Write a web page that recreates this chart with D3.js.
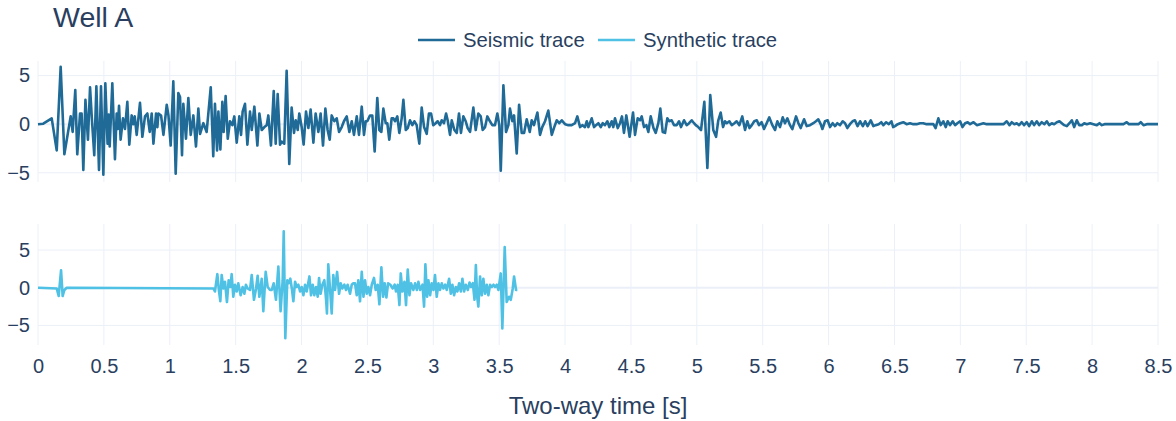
<!DOCTYPE html>
<html><head><meta charset="utf-8">
<script src="https://cdn.jsdelivr.net/npm/d3@7"></script>
<style>body{margin:0;background:#fff}</style>
</head><body><div id="chart"></div>
<script>
const chartTitle = "Well A";
const xTitle = "Two-way time [s]";
const seriesNames = ["Seismic trace", "Synthetic trace"];
const xTicks = [0,0.5,1,1.5,2,2.5,3,3.5,4,4.5,5,5.5,6,6.5,7,7.5,8,8.5];
const yTicks = [-5,0,5];

const seismicTime = [0,0.04,0.104,0.142,0.172,0.2,0.248,0.263,0.283,0.298,0.319,0.331,0.344,0.36,0.379,0.395,0.41,0.427,0.443,0.463,0.478,0.496,0.511,0.528,0.536,0.544,0.564,0.584,0.597,0.605,0.615,0.627,0.645,0.66,0.678,0.693,0.711,0.723,0.734,0.749,0.774,0.792,0.812,0.83,0.848,0.863,0.876,0.896,0.906,0.914,0.934,0.952,0.977,0.99,1.007,1.027,1.045,1.065,1.078,1.093,1.103,1.123,1.141,1.159,1.179,1.199,1.217,1.23,1.255,1.28,1.311,1.33,1.343,1.359,1.369,1.384,1.399,1.409,1.424,1.44,1.457,1.475,1.49,1.508,1.528,1.541,1.553,1.571,1.589,1.609,1.622,1.642,1.665,1.68,1.698,1.718,1.736,1.748,1.768,1.789,1.804,1.819,1.837,1.849,1.869,1.887,1.907,1.925,1.943,1.956,1.971,1.983,2.001,2.016,2.034,2.052,2.069,2.09,2.107,2.128,2.145,2.163,2.181,2.198,2.214,2.229,2.249,2.267,2.285,2.305,2.322,2.343,2.363,2.381,2.398,2.419,2.436,2.457,2.474,2.487,2.499,2.52,2.537,2.555,2.575,2.59,2.606,2.621,2.639,2.651,2.666,2.684,2.697,2.71,2.727,2.742,2.76,2.773,2.791,2.806,2.823,2.841,2.856,2.874,2.894,2.912,2.93,2.95,2.967,2.983,3.0,3.018,3.033,3.051,3.064,3.081,3.097,3.109,3.127,3.14,3.16,3.178,3.195,3.21,3.228,3.246,3.261,3.279,3.304,3.322,3.342,3.36,3.375,3.393,3.41,3.43,3.448,3.468,3.486,3.501,3.512,3.532,3.552,3.57,3.582,3.6,3.613,3.633,3.651,3.671,3.689,3.709,3.732,3.747,3.764,3.79,3.81,3.827,3.848,3.873,3.899,3.918,3.937,3.956,3.975,4.0,4.025,4.05,4.076,4.093,4.114,4.131,4.151,4.165,4.177,4.202,4.22,4.235,4.253,4.271,4.286,4.303,4.321,4.336,4.354,4.366,4.379,4.4,4.417,4.432,4.447,4.465,4.49,4.516,4.531,4.551,4.569,4.582,4.599,4.617,4.632,4.65,4.671,4.688,4.708,4.723,4.741,4.759,4.776,4.791,4.809,4.827,4.847,4.865,4.88,4.903,4.923,4.941,4.961,4.979,4.992,5.011,5.032,5.057,5.08,5.102,5.125,5.146,5.163,5.181,5.199,5.214,5.227,5.247,5.265,5.285,5.302,5.323,5.345,5.366,5.383,5.4,5.417,5.436,5.455,5.472,5.492,5.51,5.53,5.55,5.573,5.594,5.611,5.631,5.652,5.669,5.687,5.707,5.725,5.753,5.771,5.788,5.814,5.834,5.859,5.884,5.904,5.922,5.94,5.953,5.973,5.993,6.011,6.031,6.049,6.066,6.087,6.107,6.125,6.142,6.162,6.182,6.2,6.22,6.239,6.26,6.278,6.296,6.32,6.34,6.357,6.38,6.4,6.416,6.437,6.457,6.477,6.49,6.504,6.525,6.543,6.567,6.592,6.618,6.643,6.668,6.694,6.718,6.744,6.77,6.795,6.812,6.833,6.851,6.871,6.889,6.904,6.921,6.942,6.96,6.977,6.998,7.016,7.036,7.056,7.074,7.1,7.125,7.15,7.175,7.2,7.226,7.251,7.277,7.302,7.327,7.352,7.373,7.39,7.41,7.428,7.446,7.466,7.484,7.504,7.522,7.542,7.56,7.58,7.598,7.618,7.638,7.656,7.674,7.694,7.712,7.732,7.752,7.77,7.788,7.808,7.828,7.846,7.864,7.884,7.902,7.922,7.94,7.96,7.985,8.01,8.036,8.056,8.074,8.094,8.112,8.137,8.162,8.188,8.213,8.238,8.263,8.28,8.3,8.326,8.351,8.369,8.39,8.415,8.44,8.465,8.5];
const seismicAmp = [0,0.05,0.6,-2.7,5.9,-3.1,0.8,-0.8,3.5,-3.1,1.1,1.1,-4.7,2.5,-1.6,3.8,0.3,-3.2,3.9,-4.7,3.9,-5.2,4.2,-2.0,1.0,-2.3,4.2,-3.6,1.1,-0.5,1.9,-1.6,0.6,-0.5,2.3,-2.1,0.9,0.0,0.8,-1.1,2.2,-1.3,0.8,1.1,-0.8,1.1,-2.0,1.1,-0.3,1.1,0.9,-1.1,2.0,0.9,-2.2,4.4,-5.1,3.2,2.8,-3.2,2.1,-1.5,2.7,-1.1,0.9,-2.3,1.6,-1.0,0.1,-0.8,3.8,-3.3,2.1,-2.7,1.3,-2.6,2.3,-0.8,2.9,-1.5,0.3,-0.1,0.8,-1.9,0.8,-1.1,1.3,2.1,-2.1,1.3,-0.6,1.8,-2.2,1.1,-0.6,-0.3,-0.1,0.9,-2.2,3.4,-2.0,3.1,-2.1,-1.8,-2.0,5.5,-4.1,1.7,-0.9,0.4,-0.6,1.1,-0.3,-2.1,1.3,-0.4,1.5,-1.9,1.1,-0.8,1.1,-2.2,1.6,-0.6,-1.6,0.9,0.3,0.6,-0.8,-0.3,0.3,0.8,-0.8,0.3,-1.1,0.8,-1.1,1.8,-1.1,0.3,0.3,0.9,0.9,-2.8,2.7,-0.6,-0.8,1.6,0.1,0.1,-1.6,0.6,0.6,0.3,0.8,-0.9,0.6,2.5,-0.6,-0.4,0.4,-0.1,0.3,-0.1,-2.0,1.7,-0.3,-1.0,1.1,1.1,-0.1,0.1,0.3,-0.1,0.4,0.1,1.1,0.4,-1.1,0.4,-0.6,-0.9,1.1,-0.9,0.8,0.3,-0.4,-0.8,1.7,-0.6,1.1,0.8,-0.6,-0.3,0.8,0.3,-0.1,-0.1,1.1,-0.1,-4.8,4.0,-0.8,-0.1,1.6,0.3,0.9,-3.0,2.0,-0.9,-0.9,0.5,-0.8,0.4,-0.1,1.2,-1.1,-0.3,0.3,1.4,-1.1,-0.3,0.4,0.1,0.4,0.0,-0.1,-0.1,0.1,0.8,-0.3,-0.1,-0.3,0.3,-0.3,0.6,-0.3,-0.1,0.1,-0.3,0.1,-0.1,0.3,-0.3,0.3,-0.3,0.6,-0.4,0.1,0.8,-0.9,0.9,-1.3,1.2,-1.1,0.6,0.4,0.8,-0.3,-0.1,-0.8,0.8,-0.4,-0.9,0.1,1.6,-0.8,-0.9,0.6,0.3,0.4,-0.1,-0.1,0.3,-0.3,0.4,-0.1,0.1,0.4,0.1,-0.1,-0.3,-0.6,2.3,-4.5,3.0,-0.6,-1.3,0.4,1.2,-0.3,0.3,0.1,0.3,-0.1,0.1,0.3,-0.1,0.8,-0.6,0.3,-0.4,-0.1,0.3,0.4,-0.1,0.2,-0.5,0.1,0.7,-0.1,-0.6,0.3,-0.3,0.7,0.1,0.6,-0.1,-0.5,0.8,0.1,-0.4,0.5,-0.2,-0.1,0.1,0.3,0.5,0,-0.5,0.3,0.4,-0.3,0.1,-0.2,0.1,-0.1,0.3,0.1,-0.4,0,0.3,0.4,-0.2,0.3,-0.2,0.3,-0.2,0.4,-0.2,-0.1,0,0.2,-0.1,0.2,0,0.3,-0.3,-0.2,0,0.1,0.2,0,0.1,0,0,0.1,0.1,0,0,0,-0.4,0.6,-0.1,0.3,-0.3,0.3,-0.1,0.3,-0.1,0.1,0.3,-0.3,0.1,0.2,0,0.2,-0.1,0,0.1,0,0,0,0,0,0,0.3,-0.1,0.2,0,0.1,-0.1,0.2,-0.1,0.2,-0.2,0.3,-0.1,0.3,-0.1,0.2,0,0.3,-0.1,0.1,0,0.2,0.3,0.1,-0.1,-0.2,0.1,0.4,-0.3,0.4,-0.1,-0.1,0.1,0,0.1,0,-0.1,0.1,-0.1,0,0,0,0,0,0,0,0.2,0,0,0,0,0.2,-0.1,0,0,0,0];

const synthTime = [0,0.142,0.157,0.175,0.187,0.2,0.218,1.331,1.343,1.361,1.374,1.384,1.394,1.407,1.419,1.434,1.447,1.46,1.47,1.482,1.495,1.508,1.52,1.538,1.553,1.566,1.578,1.591,1.609,1.622,1.639,1.655,1.667,1.68,1.698,1.71,1.728,1.743,1.761,1.774,1.789,1.806,1.824,1.841,1.857,1.865,1.877,1.892,1.902,1.915,1.928,1.938,1.951,1.963,1.976,1.989,2.001,2.014,2.027,2.039,2.06,2.072,2.085,2.097,2.11,2.123,2.133,2.145,2.158,2.173,2.186,2.193,2.203,2.216,2.229,2.241,2.254,2.27,2.285,2.297,2.31,2.325,2.338,2.35,2.368,2.381,2.393,2.406,2.419,2.431,2.444,2.457,2.47,2.482,2.495,2.507,2.52,2.533,2.55,2.563,2.578,2.591,2.606,2.619,2.631,2.644,2.657,2.674,2.692,2.707,2.717,2.73,2.743,2.753,2.766,2.781,2.793,2.806,2.819,2.831,2.849,2.862,2.875,2.887,2.9,2.918,2.93,2.94,2.953,2.963,2.976,2.988,3.001,3.013,3.026,3.039,3.051,3.064,3.077,3.09,3.102,3.12,3.133,3.145,3.158,3.171,3.183,3.196,3.209,3.221,3.234,3.247,3.262,3.275,3.287,3.3,3.313,3.323,3.333,3.342,3.355,3.368,3.38,3.393,3.406,3.418,3.431,3.444,3.457,3.469,3.482,3.494,3.512,3.524,3.542,3.557,3.575,3.588,3.603,3.613,3.628,3.638];
const synthAmp = [0,-0.1,-1.1,2.3,-1.1,-0.3,0,-0.1,-0.5,1.8,-0.5,-1.8,1.7,-0.1,0.8,-1.9,1.0,0.1,1.8,-1.2,0.4,-0.5,0.6,-1.0,0.1,-0.8,0.4,-0.1,-0.3,1.7,-1.6,-0.1,1.6,-1.2,1.2,-3.1,2.1,0.1,-0.3,-0.3,0.6,-1.6,2.8,-3.1,1.0,7.5,-6.7,1.0,0.6,1.2,-0.3,-1.8,0.8,0.1,0.4,-0.5,0.1,-1.0,0.4,-0.5,1.5,-1.0,0.4,-1.0,0.1,-1.2,1.3,-0.8,0.4,1.0,-1.5,-3.4,3.1,-0.1,-3.4,1.7,-0.3,2.1,-0.8,0.6,-0.1,0.4,-0.3,0.4,-0.8,0.4,0.6,0.6,-1.0,1.0,-1.8,2.1,-1.2,1.0,-0.8,0.1,-1.0,0.4,1.3,-0.3,0.4,-2.2,2.7,-1.2,0.6,-1.3,0.6,0.4,-0.1,0.4,-0.5,0.4,-2.3,1.9,-0.5,0.8,-2.3,2.4,-1.0,0.6,-0.3,0.6,-0.3,0.8,-0.3,0.4,-2.5,3.1,-1.2,1.0,-1.0,0.6,-0.3,1.7,-1.2,0.6,-0.3,0.6,-0.1,0.4,-0.3,1.2,-0.8,0.4,-1.0,0.1,-0.5,0.6,-0.5,1.2,-0.5,0.4,-0.3,0.7,0.1,0.6,-1.6,3.0,-1.2,-2.5,1.5,-1.0,1.2,-0.8,0.4,-1.0,0.4,0.1,0.4,0.1,0.4,-0.3,1.9,-5.4,5.4,-1.9,-1.2,-1.6,-0.1,1.5,-0.3,-0.3];

const W = 1176, H = 421;
const FONT = "'Liberation Sans', Arial, sans-serif";
const TXT = "#2a3f5f", GRID = "#EBF0F8";
const colors = ["#1f6a96", "#4fc1e4"];

const svg = d3.select("#chart").append("svg").attr("width", W).attr("height", H)
  .style("font-family", FONT);
svg.append("rect").attr("width", W).attr("height", H).attr("fill", "#fff");

const x = d3.scaleLinear().domain([0, 8.5]).range([38, 1158]);
const panels = [
  {time: seismicTime, amp: seismicAmp, color: colors[0], y: d3.scaleLinear().domain([-5.95, 6.5]).range([182, 61])},
  {time: synthTime, amp: synthAmp, color: colors[1], y: d3.scaleLinear().domain([-7.6, 8.46]).range([345, 224])}
];

panels.forEach((p, i) => {
  const g = svg.append("g");
  const [y0, y1] = p.y.range();
  g.selectAll("line.vg").data(xTicks).join("line")
    .attr("x1", d => x(d)).attr("x2", d => x(d))
    .attr("y1", y1).attr("y2", y0)
    .attr("stroke", GRID).attr("stroke-width", 1);
  g.selectAll("line.hg").data(yTicks).join("line")
    .attr("x1", 38).attr("x2", 1158)
    .attr("y1", d => p.y(d)).attr("y2", d => p.y(d))
    .attr("stroke", GRID).attr("stroke-width", d => d === 0 ? 2 : 1);
  const ax = g.append("g").attr("transform", "translate(38,0)")
    .call(d3.axisLeft(p.y).tickValues(yTicks).tickSize(0).tickPadding(8));
  ax.select(".domain").remove();
  ax.selectAll("text").attr("font-size", 20).attr("fill", TXT).attr("font-family", FONT);
  const pts = p.time.map((t, k) => [t, p.amp[k]]);
  g.append("path").datum(pts)
    .attr("d", d3.line().x(d => x(d[0])).y(d => p.y(d[1])))
    .attr("fill", "none").attr("stroke", p.color).attr("stroke-width", 2.6)
    .attr("stroke-linejoin", "round");
});

const xa = svg.append("g").attr("transform", "translate(0,345)")
  .call(d3.axisBottom(x).tickValues(xTicks).tickSize(0).tickPadding(14).tickFormat(d => String(d)));
xa.select(".domain").remove();
xa.selectAll("text").attr("font-size", 20).attr("fill", TXT).attr("font-family", FONT);

svg.append("text").attr("x", 598).attr("y", 414).attr("text-anchor", "middle")
  .attr("font-size", 24).attr("fill", TXT).text(xTitle);

svg.append("text").attr("x", 53).attr("y", 27).attr("font-size", 28.5).attr("fill", TXT).text(chartTitle);

const legX = [418, 598];
seriesNames.forEach((n, i) => {
  const lg = svg.append("g").attr("transform", `translate(${legX[i]},40)`);
  lg.append("line").attr("x1", 0).attr("x2", 37).attr("y1", 0).attr("y2", 0)
    .attr("stroke", colors[i]).attr("stroke-width", 2.6);
  lg.append("text").attr("x", 45).attr("y", 7).attr("font-size", 20.3).attr("fill", TXT).text(n);
});
</script></body></html>
